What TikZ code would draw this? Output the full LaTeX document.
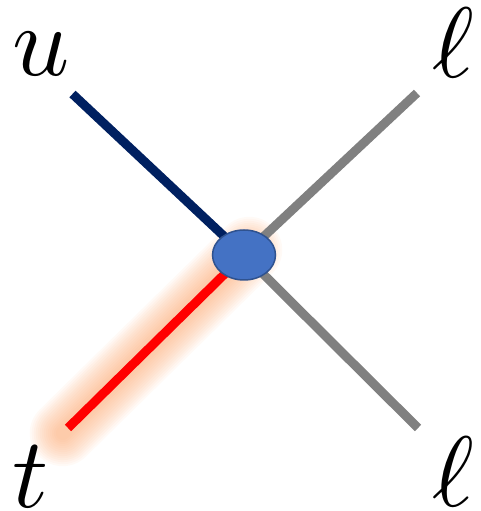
\documentclass[tikz,border=0pt]{standalone}
\usepackage{graphicx}
\usetikzlibrary{shapes.geometric,calc}
\definecolor{navyline}{RGB}{0,32,96}
\definecolor{grayline}{RGB}{128,128,128}
\definecolor{redline}{RGB}{255,0,0}
\definecolor{glowc}{RGB}{252,160,100}
\definecolor{vfill}{RGB}{68,114,196}
\definecolor{vdraw}{RGB}{47,82,143}
\newcommand{\biglab}[1]{\scalebox{10}{$#1$}}
\tikzset{
  leg/.style={line width=9pt},
  glowline/.style={draw=glowc, line cap=round},
  vertex/.style={ellipse, draw=vdraw, fill=vfill, line width=1.5pt, minimum width=63pt, minimum height=50pt, inner sep=0pt},
  lab/.style={anchor=base, inner sep=0pt}
}
\begin{document}
\begin{tikzpicture}[x=1pt,y=1pt]
\useasboundingbox (0,0) rectangle (480,511);
\coordinate (cc) at (244,256);
\coordinate (pu) at (72.5,417);
\coordinate (pl1) at (417,418);
\coordinate (pl2) at (418,83);
\coordinate (pt) at (68,83);
% glow
\foreach \w in {66,62,...,14}{
  \draw[glowline, line width=\w pt, opacity=0.055] ($(cc)!1.03!(pt)$) -- ($(pt)!1.03!(cc)$);
}
\draw[leg, draw=navyline] (pu) -- (cc);
\draw[leg, draw=grayline] (pl1) -- (cc);
\draw[leg, draw=grayline] (pl2) -- (cc);
\draw[leg, draw=redline] (pt) -- (cc);
\node[vertex] (v) at (cc) {};
\node[lab] (lu) at (41,435) {\biglab{u}};
\node[lab] (ll1) at (453,433) {\biglab{\ell}};
\node[lab] (lt) at (31,4) {\biglab{t}};
\node[lab] (ll2) at (453,5) {\biglab{\ell}};
\end{tikzpicture}
\end{document}
